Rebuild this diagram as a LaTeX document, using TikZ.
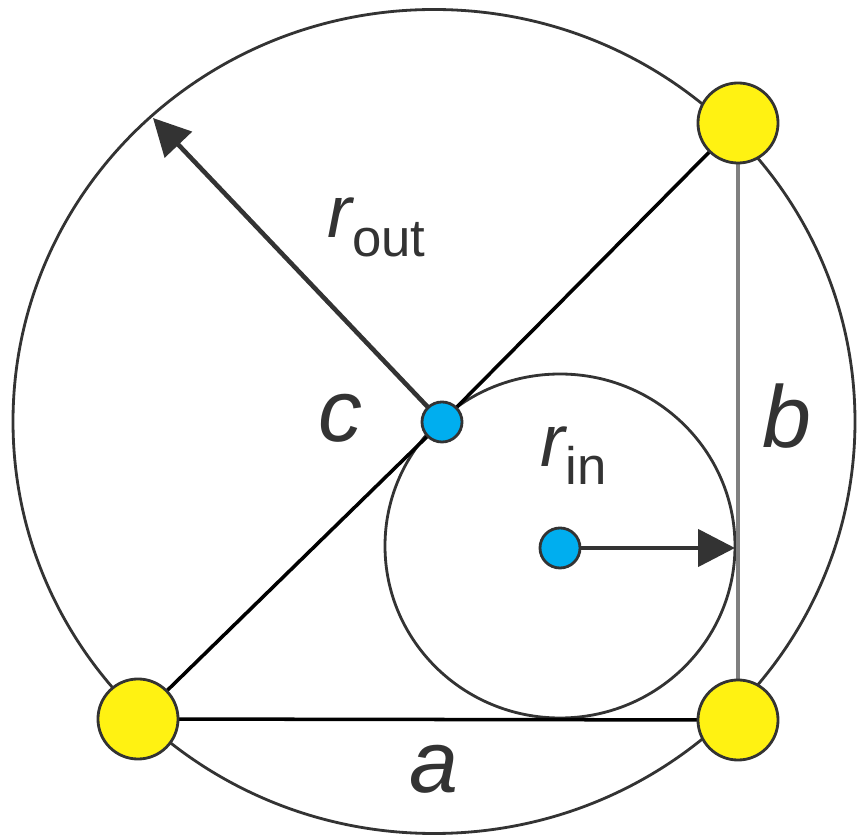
\documentclass[tikz,border=0pt]{standalone}
\usepackage{fontspec}
\setmainfont{Liberation Sans}
\usepackage{xcolor}
\usetikzlibrary{arrows.meta, calc, positioning}
\definecolor{vtxyellow}{HTML}{FFF212}
\definecolor{ctrblue}{HTML}{00AEEF}
\definecolor{inkgray}{HTML}{333333}
\newcommand{\radlabel}[3]{{\fontsize{21}{25}\selectfont\itshape #1}\raisebox{#3}{\fontsize{15}{18}\selectfont #2}}

\begin{document}
\begin{tikzpicture}[x=0.01cm, y=-0.01cm,
    vertex/.style={circle, draw=inkgray, line width=0.8pt, fill=vtxyellow, minimum size=0.8cm, inner sep=0pt},
    midpt/.style={circle, draw=inkgray, line width=0.8pt, fill=ctrblue, minimum size=0.4cm, inner sep=0pt},
    radarrow/.style={-{Triangle[length=10.5pt, width=10.5pt]}, line width=1.3pt, draw=inkgray},
    lbl/.style={font=\fontsize{25}{30}\selectfont\itshape, text=inkgray}]
    \useasboundingbox (0,0) rectangle (857,837);

    % 外接圆与内切圆
    \draw[inkgray, line width=0.8pt] (434,421.5) ellipse [x radius=421, y radius=412];
    \draw[inkgray, line width=0.8pt] (560,546) ellipse [x radius=175, y radius=172];

    % 顶点与圆心的位置
    \coordinate (pA) at (138,719);
    \coordinate (pB) at (738,720);
    \coordinate (pC) at (738,123);
    \coordinate (pO) at (442,422);
    \coordinate (pI) at (560,548);

    % 三角形的边
    \draw[black, line width=1pt] (pA) -- (pO) -- (pC);
    \draw[black, line width=1pt] (pA) -- (pB);
    \draw[black!50, line width=1.3pt] (pB) -- (pC);

    % 半径箭头
    \coordinate (outtip) at (153,118);
    \coordinate (intip) at (735,548);
    \draw[radarrow] (pO) -- (outtip);
    \draw[radarrow] (pI) -- (intip);

    % 顶点
    \node[vertex] (A) at (pA) {};
    \node[vertex] (B) at (pB) {};
    \node[vertex] (C) at (pC) {};

    % 圆心
    \node[midpt] (O) at (pO) {};
    \node[midpt] (I) at (pI) {};

    % 标注
    \node[lbl] (c) at (340,418) {c};
    \node[lbl] (b) at (787,416) {b};
    \node[lbl] (a) at (434,769) {a};
    \node[anchor=base west, inner sep=0pt, text=inkgray] (rout) at (327,238) {\radlabel{r}{out}{-5.4pt}};
    \node[anchor=base west, inner sep=0pt, text=inkgray] (rin) at (540,467) {\radlabel{r}{in}{-5pt}};
\end{tikzpicture}
\end{document}
